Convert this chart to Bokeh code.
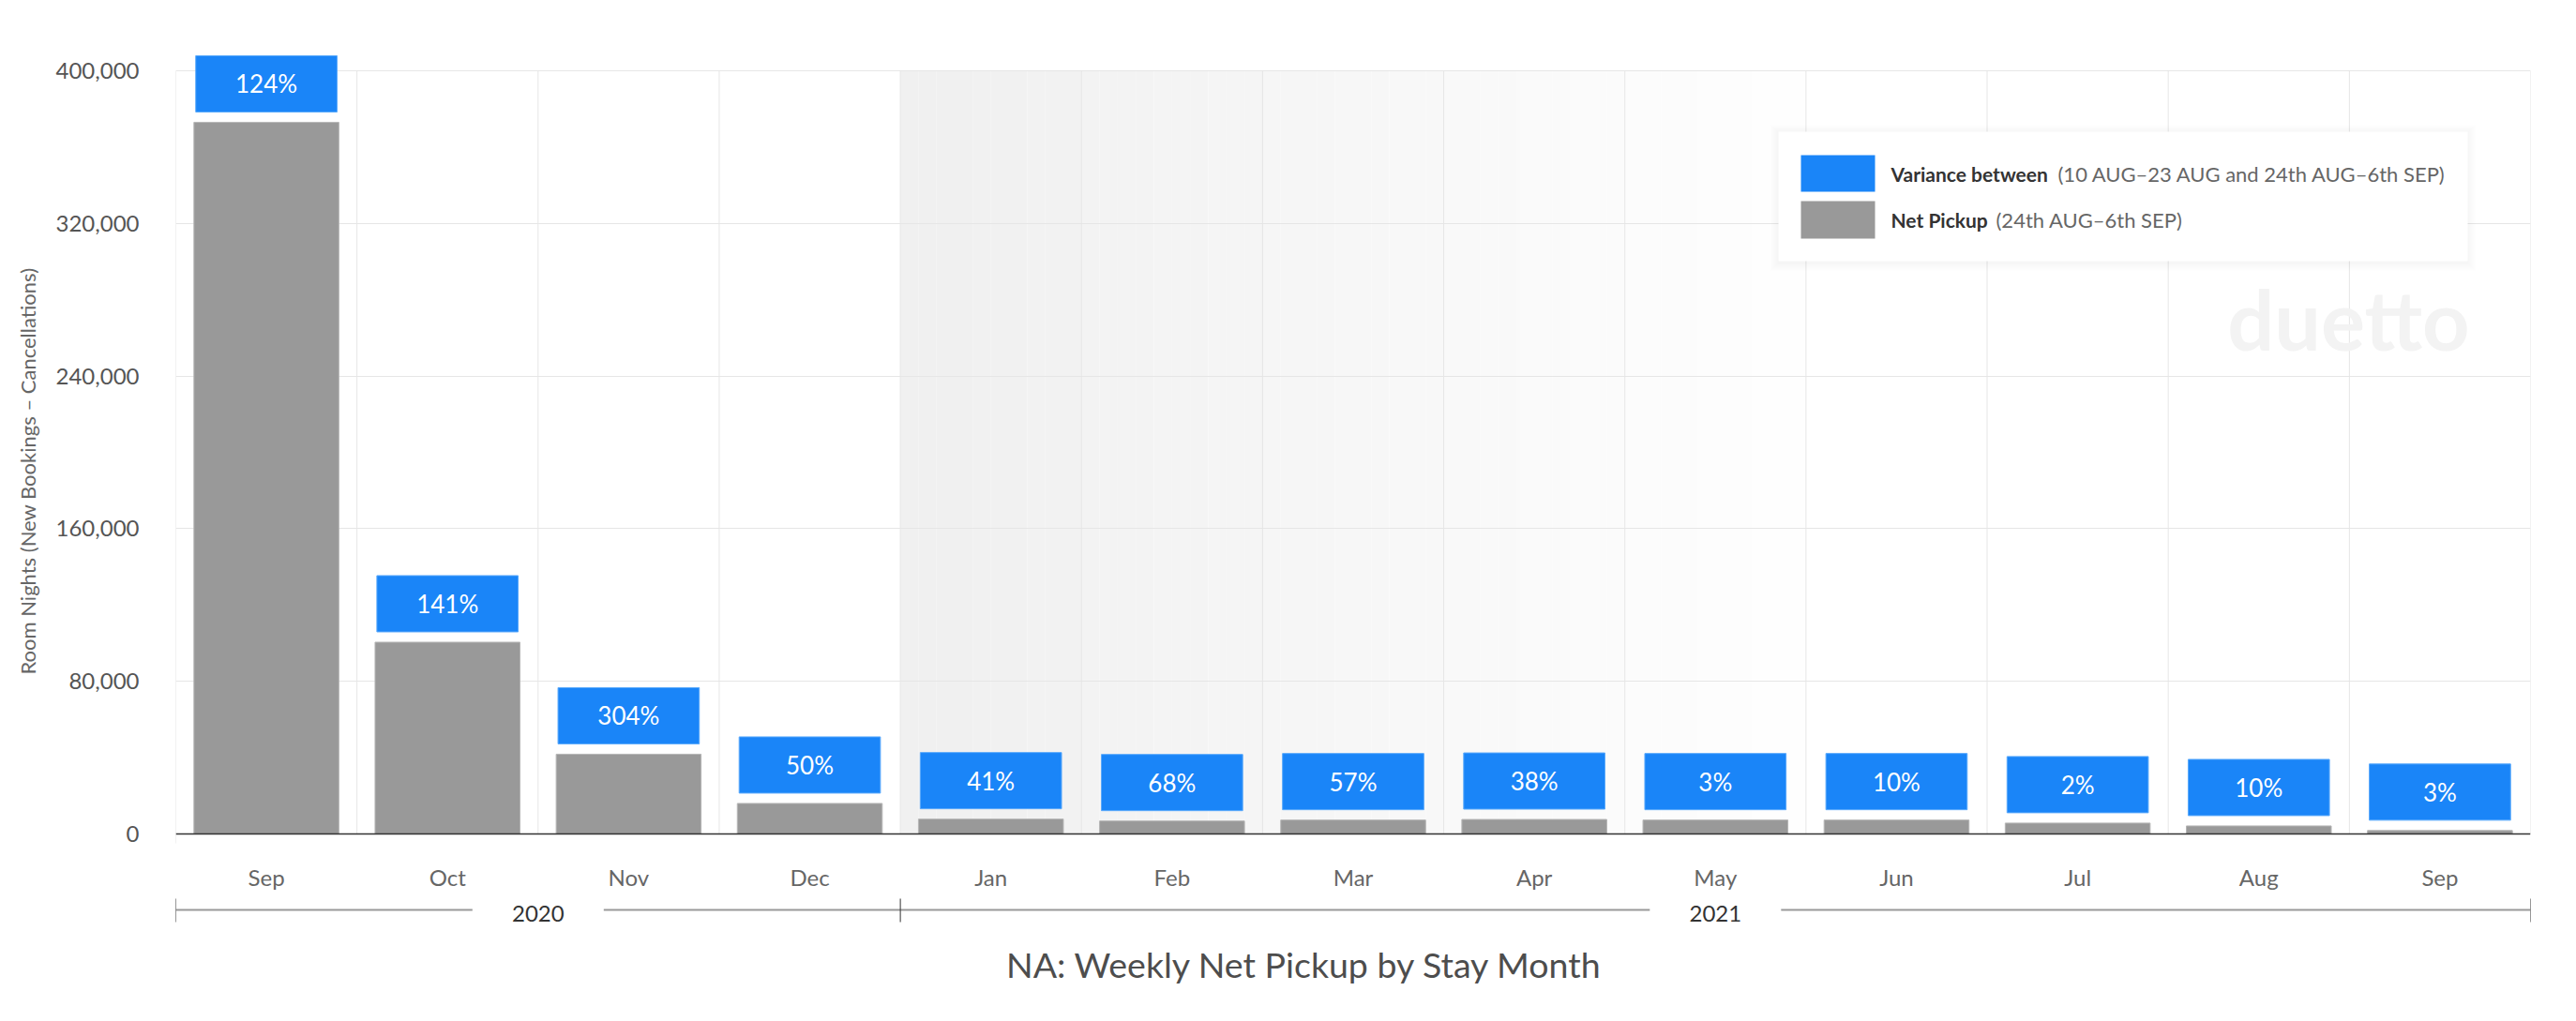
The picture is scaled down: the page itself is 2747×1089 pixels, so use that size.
from bokeh.plotting import figure
from bokeh.models import FixedTicker, NumeralTickFormatter, Range1d, Title
from bokeh.core.properties import value
from bokeh.embed import file_html
from bokeh.resources import INLINE

# data
months = ["Sep", "Oct", "Nov", "Dec", "Jan", "Feb", "Mar", "Apr", "May", "Jun", "Jul", "Aug", "Sep"]
month_year = ["2020", "2020", "2020", "2020", "2021", "2021", "2021", "2021", "2021", "2021", "2021", "2021", "2021"]
net_pickup = [373000, 100500, 41800, 16000, 7800, 6800, 7300, 7600, 7300, 7300, 5700, 4200, 1800]
variance_pct = [124, 141, 304, 50, 41, 68, 57, 38, 3, 10, 2, 10, 3]
y_ticks = [0, 80000, 160000, 240000, 320000, 400000]

BLUE = "#1a85f8"
GRAY = "#999999"
FONT = value("Lato")

# frame geometry (px)
FRAME_W = 2511
FRAME_H = 1030
TOP_GAP = 37        # frame top -> top gridline
PLOT_H = 814        # top gridline -> baseline
BOTTOM_GAP = FRAME_H - TOP_GAP - PLOT_H
UNIT = y_ticks[-1] / PLOT_H
CAT = FRAME_W / len(months)


def py(px):
    return px * UNIT


def px_x(px):
    return px / CAT


centers = [i + 0.5 for i in range(len(months))]

p = figure(width=2739, height=1079, frame_width=FRAME_W, frame_height=FRAME_H,
           x_range=Range1d(0, len(months)),
           y_range=Range1d(-py(BOTTOM_GAP), y_ticks[-1] + py(TOP_GAP)),
           x_axis_location=None, toolbar_location=None, output_backend="svg",
           min_border_left=187, min_border_right=41, min_border_top=38, min_border_bottom=11)
p.outline_line_color = None
p.background_fill_color = "white"
p.xgrid.visible = False

p.yaxis.ticker = FixedTicker(ticks=y_ticks)
p.yaxis.formatter = NumeralTickFormatter(format="0,0")
p.yaxis.axis_line_color = None
p.yaxis.major_tick_line_color = None
p.yaxis.minor_tick_line_color = None
p.yaxis.major_tick_out = 0
p.yaxis.major_tick_in = 0
p.yaxis.major_label_standoff = 39
p.yaxis.major_label_text_font = "Lato"
p.yaxis.major_label_text_font_size = "24px"
p.yaxis.major_label_text_color = "#555555"
p.ygrid.ticker = FixedTicker(ticks=y_ticks[1:])
p.ygrid.grid_line_color = "#e6e6e6"

# y axis title
p.add_layout(Title(text="Room Nights (New Bookings \u2013 Cancellations)", align="left", offset=349,
                   standoff=27, text_font="Lato", text_font_size="22px", text_font_style="normal",
                   text_color="#666666"), "left")

# 2021 shaded band, fading out
n = 50
start = month_year.index("2021")
stop = start + 5
for i in range(n):
    g = int(240 + 15 * i / n)
    x0 = start + (stop - start) * i / n
    x1 = start + (stop - start) * (i + 1) / n
    p.quad(left=x0, right=x1, bottom=0, top=y_ticks[-1], fill_color="#%02x%02x%02x" % (g, g, g),
           line_color=None, level="image")

# vertical grid lines
edges = list(range(len(months) + 1))
p.segment(x0=edges, x1=edges, y0=[0] * len(edges), y1=[y_ticks[-1]] * len(edges),
          line_color="#e6e6e6", line_width=1)
p.segment(x0=[0], x1=[0], y0=[-py(10)], y1=[0], line_color="#e6e6e6", line_width=1)

# watermark
p.text(x=[px_x(2446)], y=[py(550)], text=["duetto"], text_font=FONT, text_font_style="bold",
       text_font_size="88px", text_color="#f3f3f3", text_align="right", text_baseline="alphabetic")

# bars
p.vbar(x=centers, width=0.8, bottom=0, top=net_pickup, fill_color=GRAY, line_color="#b5b5b5", line_width=1)

gap = py(11)
box_h = py(60)
box_bottom = [v + gap for v in net_pickup]
box_top = [v + gap + box_h for v in net_pickup]
p.vbar(x=centers, width=0.78, bottom=box_bottom, top=box_top, fill_color=BLUE,
       line_color="#5aa9fb", line_width=1)
p.text(x=centers, y=[v + gap + box_h / 2 for v in net_pickup], text=["%d%%" % v for v in variance_pct],
       text_font=FONT, text_font_size="26px", text_color="white", text_align="center",
       text_baseline="middle")

# baseline
p.segment(x0=[0], x1=[len(months)], y0=[0], y1=[0], line_color="#333333", line_width=1.5)

# month labels
p.text(x=centers, y=[-py(46)] * len(months), text=months, text_font=FONT, text_font_size="24px",
       text_color="#666666", text_align="center", text_baseline="middle")

# year grouping line
years = ["2020", "2021"]
half = px_x(70)
line_y = -py(81)
for yr in years:
    idx = [i for i, m in enumerate(month_year) if m == yr]
    lo, hi = idx[0], idx[-1] + 1
    mid = (lo + hi) / 2
    p.segment(x0=[lo, mid + half], x1=[mid - half, hi], y0=[line_y, line_y], y1=[line_y, line_y],
              line_color="#999999", line_width=2)
    p.text(x=[mid], y=[line_y - py(4)], text=[yr], text_font=FONT, text_font_size="24px",
           text_color="#333333", text_align="center", text_baseline="middle")
bounds = [0, month_year.index("2021"), len(months)]
p.segment(x0=bounds, x1=bounds, y0=[-py(69)] * 3, y1=[-py(94)] * 3, line_color="#333333", line_width=1)

# title
p.text(x=[px_x(1204)], y=[-py(139)], text=["NA: Weekly Net Pickup by Stay Month"], text_font=FONT,
       text_font_size="37.5px", text_color="#4d4d4d", text_align="center", text_baseline="middle")

# legend
lx0, lx1, ly0, ly1 = px_x(1709), px_x(2444), py(611), py(749)
for k in range(1, 10):
    p.quad(left=lx0 - px_x(k), right=lx1 + px_x(k), bottom=ly0 - py(k) - py(2), top=ly1 + py(k) - py(1),
           fill_color="black", fill_alpha=0.004, line_color=None)
p.quad(left=lx0, right=lx1, bottom=ly0, top=ly1, fill_color="white", line_color=None)
p.quad(left=px_x(1733), right=px_x(1812), bottom=py(685), top=py(724), fill_color=BLUE, line_color=None)
p.quad(left=px_x(1733), right=px_x(1812), bottom=py(635), top=py(675), fill_color=GRAY, line_color=None)
p.text(x=[px_x(1829)] * 2, y=[py(704), py(655)], text=["Variance between", "Net Pickup"], text_font=FONT,
       text_font_style="bold", text_font_size="21px", text_color="#333333", text_baseline="middle")
p.text(x=[px_x(2007), px_x(1941)], y=[py(704), py(655)],
       text=["(10 AUG\u201323 AUG and 24th AUG\u20136th SEP)", "(24th AUG\u20136th SEP)"],
       text_font=FONT, text_font_size="22px", text_color="#666666", text_baseline="middle")

open("out.html", "w").write(file_html(p, INLINE))
